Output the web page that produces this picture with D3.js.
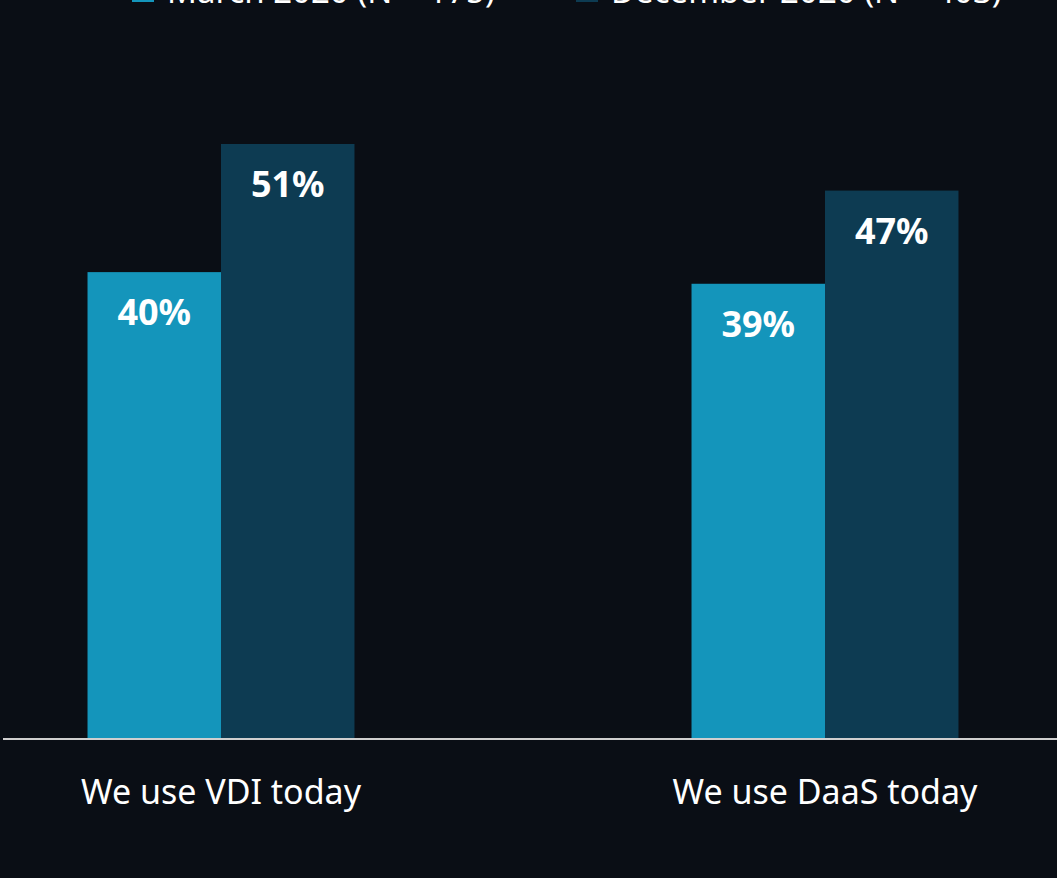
<!DOCTYPE html>
<html>
<head>
<meta charset="utf-8">
<script src="https://cdn.jsdelivr.net/npm/d3@7"></script>
<style>
  html, body { margin: 0; padding: 0; background: #0a0e15; }
  svg { display: block; }
</style>
</head>
<body>
<div id="chart"></div>
<script>
const categories = ["We use VDI today", "We use DaaS today"];
const seriesNames = ["March 2020 (N = 175)", "December 2020 (N = 403)"];
const march = [40, 39];
const december = [51, 47];
const colors = ["#1495bb", "#0d3b52"];

const width = 1057, height = 878;
const baseY = 738;

const svg = d3.select("#chart")
  .append("svg")
  .attr("width", width)
  .attr("height", height)
  .style("background", "#0a0e15");

const data = categories.map((c, i) => ({
  category: c,
  values: [march[i], december[i]]
}));

const x0 = d3.scaleBand()
  .domain(categories)
  .range([-81, 1127])
  .paddingInner(0.558)
  .paddingOuter(0.279);

const x1 = d3.scaleBand()
  .domain(seriesNames)
  .range([0, x0.bandwidth()]);

const y = d3.scaleLinear()
  .domain([0, 51])
  .range([baseY, 144]);

const font = "'Source Sans Pro', 'Noto Sans', sans-serif";

const groups = svg.selectAll("g.group")
  .data(data)
  .enter()
  .append("g")
  .attr("class", "group")
  .attr("transform", d => `translate(${x0(d.category)},0)`);

const bars = groups.selectAll("g.bar")
  .data(d => d.values.map((v, i) => ({ series: seriesNames[i], value: v, idx: i })))
  .enter()
  .append("g")
  .attr("class", "bar");

bars.append("rect")
  .attr("x", d => x1(d.series))
  .attr("y", d => y(d.value))
  .attr("width", x1.bandwidth())
  .attr("height", d => baseY - y(d.value))
  .attr("fill", d => colors[d.idx]);

bars.append("text")
  .attr("x", d => x1(d.series) + x1.bandwidth() / 2)
  .attr("y", d => y(d.value) + 53)
  .attr("text-anchor", "middle")
  .attr("fill", "#ffffff")
  .style("font-family", font)
  .style("font-weight", "bold")
  .style("font-size", "36px")
  .text(d => d.value + "%");

// baseline
svg.append("line")
  .attr("x1", 3)
  .attr("x2", width)
  .attr("y1", baseY + 1)
  .attr("y2", baseY + 1)
  .attr("stroke", "#cfcfcf")
  .attr("stroke-width", 2);

// category labels
svg.selectAll("text.cat")
  .data(categories)
  .enter()
  .append("text")
  .attr("class", "cat")
  .attr("x", d => x0(d) + x0.bandwidth() / 2)
  .attr("y", 804)
  .attr("text-anchor", "middle")
  .attr("fill", "#ffffff")
  .style("font-family", font)
  .style("font-size", "34px")
  .text(d => d);

// legend (cut off at the top edge, as in the source image)
const legendX = [132, 576];
const legend = svg.selectAll("g.legend")
  .data(seriesNames)
  .enter()
  .append("g")
  .attr("class", "legend")
  .attr("transform", (d, i) => `translate(${legendX[i]},0)`);

legend.append("rect")
  .attr("x", 0)
  .attr("y", -20)
  .attr("width", 22)
  .attr("height", 22)
  .attr("fill", (d, i) => colors[i]);

legend.append("text")
  .attr("x", 35)
  .attr("y", 3)
  .attr("fill", "#ffffff")
  .style("font-family", font)
  .style("font-size", "33px")
  .text(d => d);
</script>
</body>
</html>
